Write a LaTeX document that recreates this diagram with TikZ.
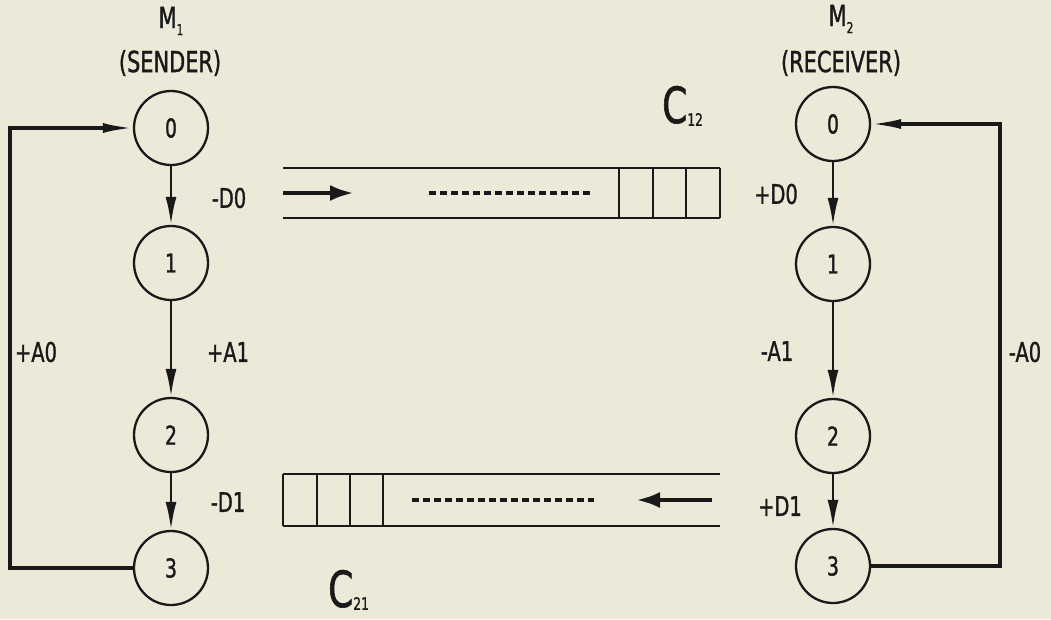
\documentclass[tikz,border=0pt]{standalone}
\usepackage{fontspec}
\newfontfamily\plotfont[FakeStretch=0.72,FakeBold=1.2]{DejaVu Sans}
\usetikzlibrary{arrows.meta}
\definecolor{paper}{RGB}{236,233,217}
\definecolor{ink}{RGB}{25,25,25}
\newcommand{\subsc}[1]{\raisebox{-0.45ex}{\fontsize{15}{15}\selectfont #1}}
\newcommand{\subbig}[1]{\raisebox{-0.1ex}{\fontsize{17}{17}\selectfont #1}}
\begin{document}
\begin{tikzpicture}[x=1pt,y=-1pt,
  every node/.style={font=\plotfont, text=ink},
  state/.style={circle, draw=ink, line width=2.3pt, minimum size=74pt, inner sep=0pt, font=\plotfont\fontsize{26}{26}\selectfont},
  lbl/.style={font=\plotfont\fontsize{27}{27}\selectfont},
  ttl/.style={font=\plotfont\fontsize{29}{29}\selectfont},
  trans/.style={draw=ink, line width=2.6pt, -{Latex[length=28pt,width=11pt]}},
  loopline/.style={draw=ink, line width=3.2pt, -{Latex[length=30pt,width=10pt]}},
  chan/.style={draw=ink, line width=2pt},
  flow/.style={draw=ink, line width=4.5pt, -{Latex[length=24pt,width=16pt]}},
  dots/.style={draw=ink, line width=4.5pt, dash pattern=on 7pt off 4pt},
  chlabel/.style={font=\plotfont\fontsize{50}{50}\selectfont, inner sep=0pt}
]
\fill[paper] (0,0) rectangle (1051,619);
\useasboundingbox (0,0) rectangle (1051,619);

% Sender
\node[ttl] (m1) at (171,21) {M\subsc{1}};
\node[ttl] (snd) at (170,63) {(SENDER)};
\node[state] (L0) at (171,128) {0};
\node[state] (L1) at (171,263) {1};
\node[state] (L2) at (171,435) {2};
\node[state] (L3) at (171,568) {3};
\draw[trans] (L0) -- (L1);
\draw[trans] (L1) -- (L2);
\draw[trans] (L2) -- (L3);
\draw[loopline] (L3.west) -- (10,568) -- (10,128) -- (L0.west);
\node[lbl] (ld0) at (229,198) {-D0};
\node[lbl] (la1) at (228,352) {+A1};
\node[lbl] (ld1) at (228,502) {-D1};
\node[lbl] (la0) at (36,352) {+A0};

% Receiver
\node[ttl] (m2) at (841,19) {M\subsc{2}};
\node[ttl] (rcv) at (841,63) {(RECEIVER)};
\node[state] (R0) at (833,124) {0};
\node[state] (R1) at (833,264) {1};
\node[state] (R2) at (833,436) {2};
\node[state] (R3) at (833,566) {3};
\draw[trans] (R0) -- (R1);
\draw[trans] (R1) -- (R2);
\draw[trans] (R2) -- (R3);
\draw[loopline] (R3.east) -- (1000,566) -- (1000,124) -- (R0.east);
\node[lbl] (rd0) at (776,194) {+D0};
\node[lbl] (ra1) at (777,351) {-A1};
\node[lbl] (rd1) at (780,506) {+D1};
\node[lbl] (ra0) at (1025,352) {-A0};

% Channel C12
\draw[chan] (283,168) -- (720,168);
\draw[chan] (283,218) -- (720,218);
\foreach \x in {619,653,686,720} \draw[chan] (\x,168) -- (\x,218);
\coordinate (f1a) at (283,193);
\coordinate (f1b) at (354,193);
\draw[flow] (f1a) -- (f1b);
\coordinate (d1a) at (429,193);
\coordinate (d1b) at (593,193);
\draw[dots] (d1a) -- (d1b);
\node[chlabel, anchor=south west] (c12) at (662,126) {C\subbig{12}};

% Channel C21
\draw[chan] (283,474) -- (720,474);
\draw[chan] (283,526) -- (720,526);
\foreach \x in {283,317,350,383} \draw[chan] (\x,474) -- (\x,526);
\coordinate (f2a) at (712,500);
\coordinate (f2b) at (636,500);
\draw[flow] (f2a) -- (f2b);
\coordinate (d2a) at (412,500);
\coordinate (d2b) at (594,500);
\draw[dots] (d2a) -- (d2b);
\node[chlabel, anchor=south west] (c21) at (328,610) {C\subbig{21}};
\end{tikzpicture}
\end{document}
